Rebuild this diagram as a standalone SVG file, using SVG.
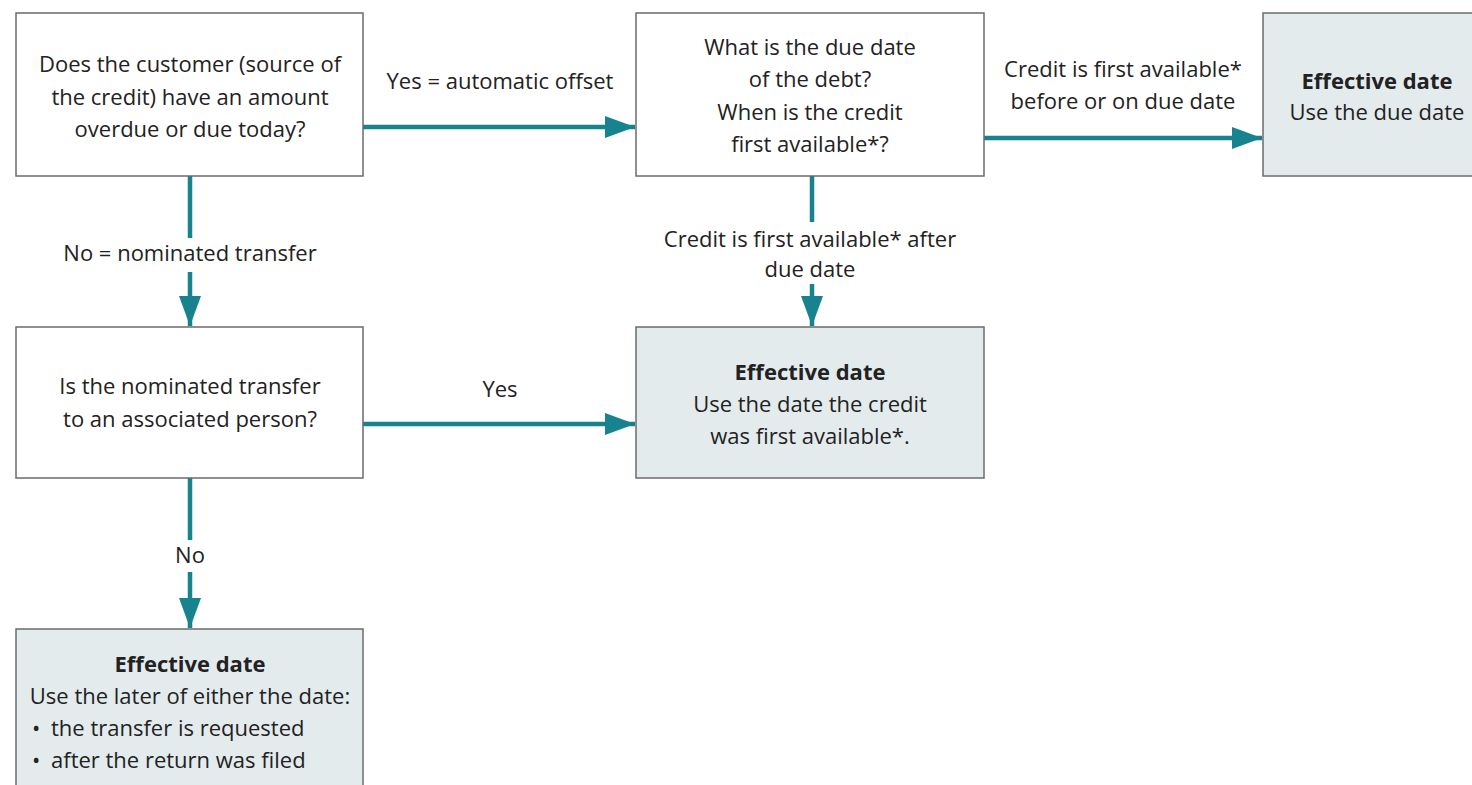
<svg xmlns="http://www.w3.org/2000/svg" width="1472" height="785" viewBox="0 0 1472 785">
<style>
.box{fill:#ffffff;stroke:#6b6b6b;stroke-width:1.5}
.res{fill:#e4ebed;stroke:#6b6b6b;stroke-width:1.5}
text{font-family:"Open Sans","Noto Sans","Liberation Sans",sans-serif;font-size:22px;fill:#222222}
.c{text-anchor:middle}
.b{font-weight:bold}
.conn{stroke:#16838e;stroke-width:4.5;fill:none}
.lbg{fill:#ffffff}
</style>
<defs>
<marker id="ah" markerWidth="30" markerHeight="22" refX="30" refY="11" orient="auto" markerUnits="userSpaceOnUse">
<path d="M0,0 L30,11 L0,22 Z" fill="#16838e"/>
</marker>
</defs>
<rect width="1472" height="785" fill="#ffffff"/>
<g id="connectors">
<line class="conn" x1="363" y1="127" x2="635" y2="127" marker-end="url(#ah)"/>
<line class="conn" x1="984" y1="138" x2="1262" y2="138" marker-end="url(#ah)"/>
<line class="conn" x1="190" y1="176" x2="190" y2="326" marker-end="url(#ah)"/>
<line class="conn" x1="812" y1="176" x2="812" y2="326" marker-end="url(#ah)"/>
<line class="conn" x1="363" y1="424" x2="635" y2="424" marker-end="url(#ah)"/>
<line class="conn" x1="190" y1="478" x2="190" y2="628" marker-end="url(#ah)"/>
<rect class="lbg" x="56" y="238" width="268" height="34"/>
<text class="c" x="190" y="261">No = nominated transfer</text>
<rect class="lbg" x="660" y="222" width="300" height="62"/>
<text class="c" x="810" y="247">Credit is first available* after</text>
<text class="c" x="810" y="277">due date</text>
<rect class="lbg" x="170" y="540" width="40" height="32"/>
<text class="c" x="190" y="563">No</text>
<text class="c" x="500" y="89">Yes = automatic offset</text>
<text class="c" x="1123" y="77">Credit is first available*</text>
<text class="c" x="1123" y="109">before or on due date</text>
<text class="c" x="500" y="397">Yes</text>
</g>
<g id="q1">
<rect class="box" x="16" y="13" width="347" height="163"/>
<text class="c" x="190" y="72">Does the customer (source of</text>
<text class="c" x="190" y="105">the credit) have an amount</text>
<text class="c" x="190" y="137">overdue or due today?</text>
</g>
<g id="q2">
<rect class="box" x="636" y="13" width="348" height="163"/>
<text class="c" x="810" y="55">What is the due date</text>
<text class="c" x="810" y="87">of the debt?</text>
<text class="c" x="810" y="120">When is the credit</text>
<text class="c" x="810" y="152">first available*?</text>
</g>
<g id="r1">
<rect class="res" x="1263" y="13" width="220" height="163"/>
<text class="c b" x="1377" y="89">Effective date</text>
<text class="c" x="1377" y="120">Use the due date</text>
</g>
<g id="q3">
<rect class="box" x="16" y="327" width="347" height="151"/>
<text class="c" x="190" y="394">Is the nominated transfer</text>
<text class="c" x="190" y="427">to an associated person?</text>
</g>
<g id="r2">
<rect class="res" x="636" y="327" width="348" height="151"/>
<text class="c b" x="810" y="380">Effective date</text>
<text class="c" x="810" y="412">Use the date the credit</text>
<text class="c" x="810" y="444">was first available*.</text>
</g>
<g id="r3">
<rect class="res" x="16" y="629" width="347" height="170"/>
<text class="c b" x="190" y="672">Effective date</text>
<text class="c" x="190" y="704">Use the later of either the date:</text>
<text x="32" y="736">•</text>
<text x="51" y="736">the transfer is requested</text>
<text x="32" y="768">•</text>
<text x="51" y="768">after the return was filed</text>
</g>
</svg>
